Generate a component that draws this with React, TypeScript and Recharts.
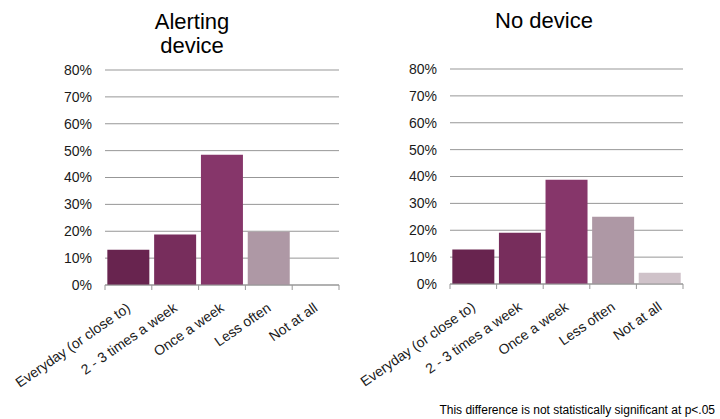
import { BarChart, Bar, XAxis, YAxis, CartesianGrid, Cell } from 'recharts';

const categories = ['Everyday (or close to)', '2 - 3 times a week', 'Once a week', 'Less often', 'Not at all'];
const alertingValues = [13.1, 18.8, 48.5, 19.8, 0];
const noDeviceValues = [12.8, 19.1, 38.8, 25.0, 4.2];
const yTicks = [0, 10, 20, 30, 40, 50, 60, 70, 80];
const barColors = ['#68244f', '#772d5c', '#86366a', '#ae98a5', '#cfc2c9'];

const FONT = '"Liberation Sans", Arial, sans-serif';
const GRID = '#979797';

const toRows = (values: number[]) => categories.map((name, i) => ({ name, value: values[i] }));

const CategoryTick = ({ x, y, payload, index, band }: any) => {
  const last = index === categories.length - 1;
  const tx = x + 3;
  const ty = y + 25;
  return (
    <g>
      <line x1={x - band / 2} x2={x - band / 2} y1={y} y2={y + 5} stroke={GRID} />
      {last && <line x1={x + band / 2} x2={x + band / 2} y1={y} y2={y + 5} stroke={GRID} />}
      <text
        x={tx}
        y={ty}
        textAnchor="end"
        fontSize={14}
        fill="#1a1a1a"
        fontFamily={FONT}
        transform={`rotate(-35, ${tx}, ${ty})`}
      >
        {payload.value}
      </text>
    </g>
  );
};

interface PanelProps {
  values: number[];
  left: number;
  width: number;
  margin: { top: number; right: number; bottom: number; left: number };
}

function Panel({ values, left, width, margin }: PanelProps) {
  const yAxisWidth = 60;
  const band = (width - margin.left - margin.right - yAxisWidth) / categories.length;
  return (
    <div style={{ position: 'absolute', left, top: 0 }}>
      <BarChart width={width} height={419} data={toRows(values)} margin={margin} barCategoryGap="5%">
        <CartesianGrid vertical={false} stroke={GRID} />
        <XAxis
          dataKey="name"
          height={100}
          interval={0}
          tickLine={false}
          tickSize={0}
          tickMargin={0}
          axisLine={{ stroke: GRID }}
          tick={<CategoryTick band={band} />}
        />
        <YAxis
          width={yAxisWidth}
          domain={[0, 80]}
          ticks={yTicks}
          axisLine={false}
          tickLine={false}
          tickSize={6}
          tickMargin={7}
          tickFormatter={(v) => `${v}%`}
          tick={{ fontSize: 14, fill: '#1a1a1a', fontFamily: FONT }}
        />
        <Bar dataKey="value" isAnimationActive={false}>
          {values.map((_, i) => (
            <Cell key={i} fill={barColors[i]} />
          ))}
        </Bar>
      </BarChart>
    </div>
  );
}

export default function App() {
  return (
    <div style={{ position: 'absolute', left: 0, top: 0, width: 720, height: 419, background: '#fff', fontFamily: FONT }}>
      <Panel values={alertingValues} left={0} width={360} margin={{ top: 70, right: 21, bottom: 34, left: 45 }} />
      <Panel values={noDeviceValues} left={300} width={420} margin={{ top: 69, right: 37, bottom: 35, left: 90 }} />
      <svg width={720} height={419} style={{ position: 'absolute', left: 0, top: 0, pointerEvents: 'none' }}>
        <text x={192} y={29} textAnchor="middle" fontSize={22} fontFamily={FONT} fill="#000">Alerting</text>
        <text x={192} y={53} textAnchor="middle" fontSize={22} fontFamily={FONT} fill="#000">device</text>
        <text x={544} y={28} textAnchor="middle" fontSize={22} fontFamily={FONT} fill="#000">No device</text>
        <text x={715} y={414} textAnchor="end" fontSize={12} fontFamily={FONT} fill="#000">
          This difference is not statistically significant at p&lt;.05
        </text>
      </svg>
    </div>
  );
}
